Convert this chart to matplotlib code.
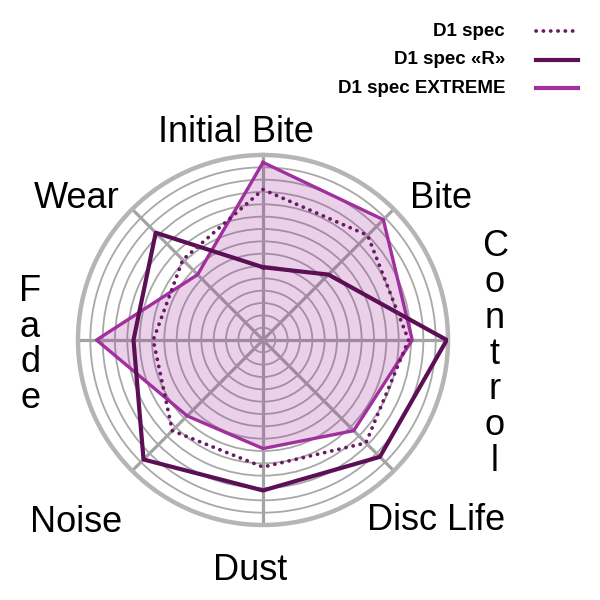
import numpy as np
import matplotlib
matplotlib.use("Agg")
import matplotlib.pyplot as plt
from matplotlib.lines import Line2D

plt.rcParams['font.family'] = ['Liberation Sans', 'DejaVu Sans']

categories = ["Initial Bite", "Bite", "Control", "Disc Life", "Dust", "Noise", "Fade", "Wear"]
series_names = ["D1 spec", "D1 spec «R»", "D1 spec EXTREME"]
d1_spec = [12.2, 12.0, 11.8, 11.8, 10.3, 10.4, 8.9, 9.2]
d1_spec_r = [5.9, 7.5, 14.9, 13.4, 12.2, 13.7, 10.5, 12.3]
d1_spec_extreme = [14.4, 13.8, 12.1, 10.4, 8.8, 8.7, 13.5, 7.5]
r_max = 15
ring_values = list(range(1, 15))

W, H = 600, 600
fig = plt.figure(figsize=(6, 6), dpi=100)
cx, cy, R = 263, 340, 185
ax = fig.add_axes([(cx - R) / W, (H - cy - R) / H, 2 * R / W, 2 * R / H], projection='polar')
ax.set_theta_zero_location('N')
ax.set_theta_direction(-1)

n = len(categories)
angles = np.arange(n) * 2 * np.pi / n
closed = np.concatenate([angles, angles[:1]])

def close(v):
    return list(v) + [v[0]]

c_dot = '#6a1a62'
c_r = '#5c0f54'
c_ext = '#a1309f'
dot_style = dict(color=c_dot, lw=2.7, ls=(0, (0.05, 1.9)), dash_capstyle='round')

ax.fill(closed, close(d1_spec_extreme), color=c_ext, alpha=0.22, lw=0, zorder=2)
ax.plot(closed, close(d1_spec_extreme), color=c_ext, lw=2.4, zorder=4)
ax.plot(closed, close(d1_spec_r), color=c_r, lw=3.0, zorder=5)
ax.plot(closed, close(d1_spec), zorder=6, **dot_style)

ax.set_ylim(0, r_max)
ax.set_yticks(ring_values)
ax.set_yticklabels([])
ax.set_xticks(angles)
ax.set_xticklabels([])
ax.yaxis.grid(True, color='#a8a8a8', lw=1.3)
ax.xaxis.grid(True, color='#a3a3a3', lw=2.3)
for gl in ax.yaxis.get_gridlines() + ax.xaxis.get_gridlines():
    gl.set_zorder(3)
ax.spines['polar'].set_color('#b5b5b5')
ax.spines['polar'].set_linewidth(3.2)
ax.tick_params(length=0)

label_pos = [(236, 133), (441, 199), (495, 354), (436, 521), (250, 570), (76, 522), (30, 345), (77, 199)]
vertical = {"Control", "Fade"}
for name, (x, y) in zip(categories, label_pos):
    txt = "\n".join(name) if name in vertical else name
    fig.text(x / W, 1 - y / H, txt, ha='center', va='center', fontsize=26,
             color='#000000', linespacing=1.03, multialignment='center')

legend_y = [31, 60, 88]
styles = [dot_style, dict(color=c_r, lw=3.0), dict(color=c_ext, lw=3.0)]
for name, y, st in zip(series_names, legend_y, styles):
    fig.text(505 / W, 1 - y / H, name, ha='right', va='center', fontsize=13.5,
             fontweight='bold', color='#000000')
    fig.add_artist(Line2D([536 / W, 578 / W], [1 - y / H, 1 - y / H], transform=fig.transFigure, **st))

fig.savefig('out.png', dpi=100)
